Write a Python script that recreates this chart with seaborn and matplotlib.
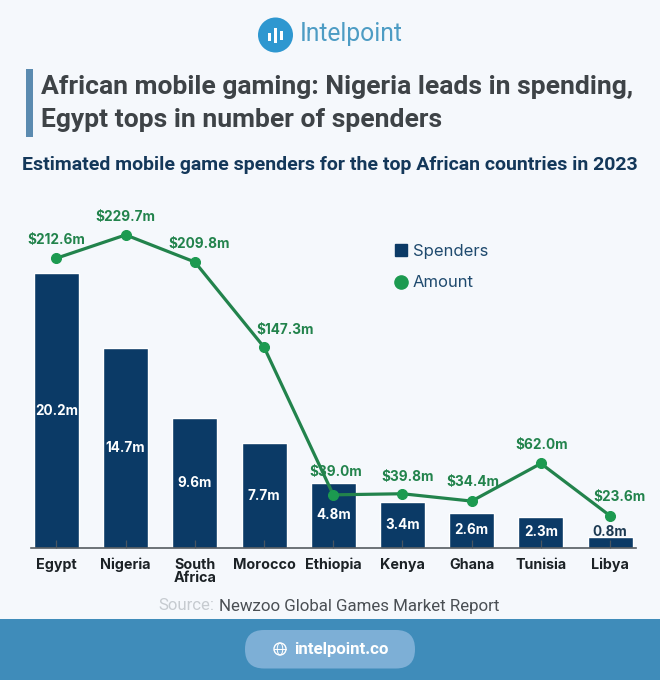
import matplotlib
matplotlib.use("Agg")
import matplotlib.pyplot as plt
from matplotlib.patches import Rectangle, FancyBboxPatch, Circle, Ellipse
from matplotlib.lines import Line2D
import seaborn as sns
import pandas as pd

countries = ["Egypt", "Nigeria", "South\nAfrica", "Morocco", "Ethiopia", "Kenya", "Ghana", "Tunisia", "Libya"]
spenders = [20.2, 14.7, 9.6, 7.7, 4.8, 3.4, 2.6, 2.3, 0.8]
amounts = [212.6, 229.7, 209.8, 147.3, 39.0, 39.8, 34.4, 62.0, 23.6]

W, H = 660, 680
BG = "#f5f8fc"; NAVY = "#0b3a66"; GREEN = "#22834c"; MARK = "#1c9a50"
FONT = "Roboto"; DATA_FONT = "Inter"

sns.set_theme(style="white")
plt.rcParams["font.family"] = [FONT, "DejaVu Sans"]

fig = plt.figure(figsize=(W / 100, H / 100), dpi=100, facecolor=BG)

def fx(x): return x / W
def fy(y): return 1 - y / H
def label(x, y, s, **kw):
    kw.setdefault("va", "center")
    return fig.text(fx(x), fy(y), s, **kw)

ax = fig.add_axes([fx(31.5), fy(548), (635.5 - 31.5) / W, 348 / H], facecolor="none")
df = pd.DataFrame({"country": countries, "spenders": spenders, "amount": amounts})
sns.barplot(data=df, x="country", y="spenders", color=NAVY, saturation=1, width=0.65, ax=ax, zorder=2)
ax.set_xlim(-0.361, 8.367)
ax.set_ylim(0, 25.6)
ax.set_xlabel(""); ax.set_ylabel("")
ax.set_yticks([])
ax.set_axisbelow(False)
for s in ["top", "left", "right"]:
    ax.spines[s].set_visible(False)
ax.spines["bottom"].set_color("#555b60")
ax.spines["bottom"].set_linewidth(1.2)
ax.spines["bottom"].set_zorder(5)
ax.tick_params(axis="x", direction="in", length=6, width=0.9, color="#4a5560", pad=7, bottom=True)
for t in ax.get_xticklabels():
    t.set_fontsize(10.3); t.set_fontweight("bold"); t.set_color("#1c2226"); t.set_linespacing(0.95)
    t.set_va("top"); t.set_fontfamily(DATA_FONT)

bars = ax.containers[0]
ax.bar_label(bars, labels=[f"{v}m" for v in spenders[:-1]] + [""], label_type="center",
             color="white", fontsize=9.7, fontweight="bold", zorder=6, family=DATA_FONT)
ax.bar_label(bars, labels=[""] * 8 + [f"{spenders[-1]}m"], label_type="edge", padding=-1,
             color="#1d3a52", fontsize=9.7, fontweight="bold", zorder=6, family=DATA_FONT)

ax2 = ax.twinx()
ax2.set_ylim(0, 255.3)
ax2.set_yticks([]); ax2.set_ylabel("")
ax2.patch.set_visible(False)
for s in ax2.spines.values():
    s.set_visible(False)
sns.lineplot(data=df, x="country", y="amount", color=GREEN, linewidth=2.3, marker="o",
             markersize=7.2, markerfacecolor=MARK, markeredgecolor=MARK, ax=ax2, sort=False, zorder=4)
ax2.set_xlabel(""); ax2.set_ylabel("")
offsets = [(0, 18), (0, 18), (4, 18), (21, 17), (2, 23), (5, 17), (1, 19), (1, 18), (9, 19)]
for i, (v, (dx, dy)) in enumerate(zip(amounts, offsets)):
    ax2.annotate(f"${v}m", (i, v), xytext=(dx * .72, dy * .72), textcoords="offset points",
                 ha="center", va="center", color=GREEN, fontsize=9.8, fontweight="bold", zorder=7,
                 family=DATA_FONT)

handles = [Line2D([], [], ls="", marker="s", ms=9, color=NAVY),
           Line2D([], [], ls="", marker="o", ms=9.5, color=MARK)]
fig.legend(handles, ["Spenders", "Amount"], loc="upper left", bbox_to_anchor=(fx(384), fy(244)),
           frameon=False, prop={"family": DATA_FONT, "size": 12}, labelspacing=0.98, handletextpad=-0.28,
           labelcolor="#1f4a6e", borderpad=0, borderaxespad=0)

fig.add_artist(Rectangle((fx(26), fy(137)), 7 / W, 68 / H, transform=fig.transFigure, color="#5b8bb0", lw=0))
label(41, 87, "African mobile gaming: Nigeria leads in spending,", fontsize=19.05, fontweight="bold", color="#3e4347")
label(41, 120.5, "Egypt tops in number of spenders", fontsize=19.05, fontweight="bold", color="#3e4347")
label(22, 165, "Estimated mobile game spenders for the top African countries in 2023",
      fontsize=14.0, fontweight="bold", color="#14385a")

logo_ax = fig.add_axes([0, 0, 1, 1], facecolor="none")
logo_ax.set_xlim(0, W); logo_ax.set_ylim(H, 0); logo_ax.axis("off")
logo_ax.set_zorder(-1)
logo_ax.add_patch(Circle((275.5, 35), 17.5, color="#2e97d0", lw=0))
for bx, top, bot in [(269, 33, 41), (275, 28, 43), (281, 31, 40)]:
    logo_ax.add_patch(Rectangle((bx - 1.5, top), 3.2, bot - top, color="white", lw=0))
label(300, 34.5, "Intelpoint", fontsize=17.7, color="#4d9cc4")

label(158, 606, "Source:", fontsize=12.1, color="#c6cbd0")
label(219, 606, "Newzoo Global Games Market Report", fontsize=12.2, color="#4a4f54")

logo_ax.add_patch(Rectangle((0, 619), W, 61, color="#3f8cba", lw=0))
logo_ax.add_patch(FancyBboxPatch((245, 630), 170, 38.5, boxstyle="round,pad=0,rounding_size=19",
                                 color="#7dafd6", lw=0))
logo_ax.add_patch(Circle((280, 649), 6, fill=False, ec="white", lw=1))
logo_ax.plot([274, 286], [649, 649], color="white", lw=0.7)
logo_ax.add_patch(Ellipse((280, 649), 5.5, 12, fill=False, ec="white", lw=0.7))
label(294, 649.5, "intelpoint.co", fontsize=12.2, fontweight="bold", color="white")

fig.savefig("out.png", dpi=100, facecolor=BG)
